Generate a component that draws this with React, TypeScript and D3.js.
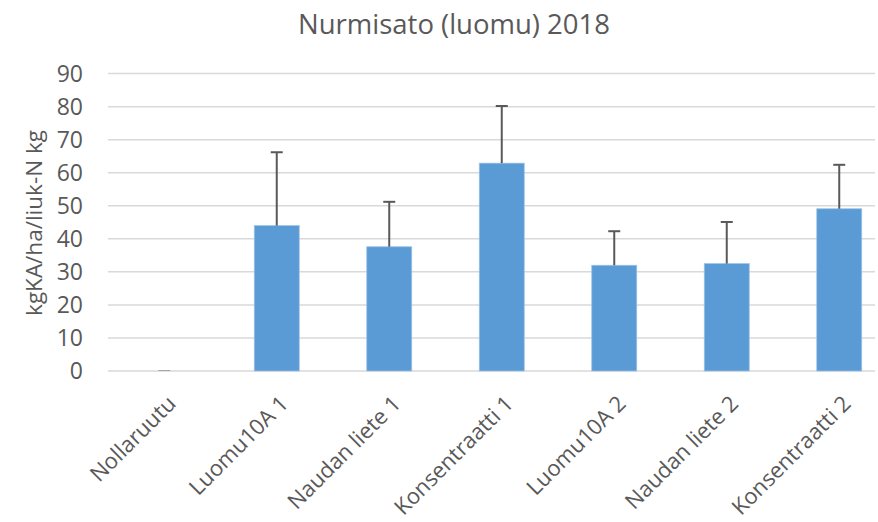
import React from "react";
import * as d3 from "d3";

const categories = ["Nollaruutu", "Luomu10A 1", "Naudan liete 1", "Konsentraatti 1", "Luomu10A 2", "Naudan liete 2", "Konsentraatti 2"];
const values = [0, 44.0, 37.6, 62.9, 32.0, 32.5, 49.1];
const errorsPlus = [0, 22.2, 13.6, 17.3, 10.3, 12.6, 13.3];
const yTicks = [0, 10, 20, 30, 40, 50, 60, 70, 80, 90];
const title = "Nurmisato (luomu) 2018";
const yTitle = "kgKA/ha/liuk-N kg";

const W = 878;
const H = 522;
const font = "'Open Sans', sans-serif";
const textColor = "#595959";

export default function App() {
  const left = 108;
  const top = 73.6;
  const bottom = 371;
  const bandW = 112.5;
  const x = d3.scaleBand<string>().domain(categories).range([left, left + bandW * categories.length]).paddingInner(0.6).paddingOuter(0.3);
  const y = d3.scaleLinear().domain([0, 90]).range([bottom, top]);
  const gridRight = 875;

  return (
    <div style={{ position: "absolute", left: 0, top: 0 }}>
      <svg width={W} height={H} style={{ display: "block", background: "#fff" }}>
        <text x={454} y={34} textAnchor="middle" fontFamily={font} fontSize={27.5} fill={textColor}>{title}</text>
        {yTicks.map((t) => (
          <g key={t}>
            <line x1={left} x2={gridRight} y1={y(t)} y2={y(t)} stroke="#D9D9D9" strokeWidth={1.5} />
            <text x={83} y={y(t)} dy="0.36em" textAnchor="end" fontFamily={font} fontSize={23} fill={textColor}>{t}</text>
          </g>
        ))}
        <text transform={`translate(42,223) rotate(-90)`} textAnchor="middle" fontFamily={font} fontSize={22.5} fill={textColor}>{yTitle}</text>
        {categories.map((c, i) => {
          const bx = x(c)!;
          const bw = x.bandwidth();
          const cx = bx + bw / 2;
          const v = values[i];
          return (
            <g key={c}>
              {v > 0 && (
                <rect x={bx} y={y(v)} width={bw} height={y(0) - y(v)} fill="#5B9BD5" stroke="#9DC3E6" strokeWidth={0.75} />
              )}
              {v > 0 && errorsPlus[i] > 0 && (
                <g stroke="#595959" strokeWidth={2}>
                  <line x1={cx} x2={cx} y1={y(v)} y2={y(v + errorsPlus[i])} />
                  <line x1={cx - 6} x2={cx + 6} y1={y(v + errorsPlus[i])} y2={y(v + errorsPlus[i])} />
                </g>
              )}
              {v === 0 && (
                <line x1={cx - 6} x2={cx + 6} y1={y(0) - 0.5} y2={y(0) - 0.5} stroke="#A6A6A6" strokeWidth={1} />
              )}
              <text transform={`translate(${cx + 13},${405}) rotate(-45)`} textAnchor="end" fontFamily={font} fontSize={22} fill={textColor}>{c}</text>
            </g>
          );
        })}
      </svg>
    </div>
  );
}
